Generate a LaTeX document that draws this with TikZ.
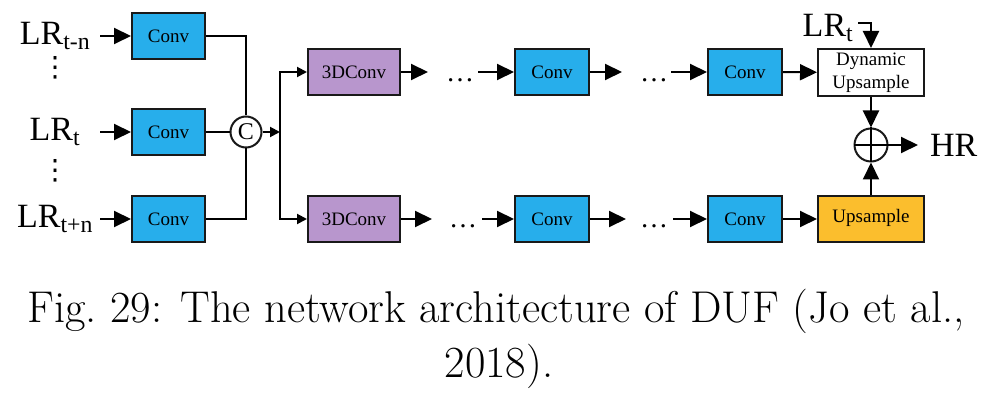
\documentclass[tikz,border=0pt]{standalone}
\usepackage{fontspec}
\usepackage{xcolor}
\usepackage{tikz}
\usetikzlibrary{arrows.meta}
\newfontfamily\diagfont{Liberation Serif}
\newfontfamily\symfont{DejaVu Sans}
\definecolor{convblue}{RGB}{39,174,235}
\definecolor{dconvpurple}{RGB}{184,150,205}
\definecolor{upsorange}{RGB}{251,190,45}

\begin{document}
\begin{tikzpicture}[x=1pt, y=-1pt, line width=2pt,
	box/.style={draw=black!90, line width=2pt, inner sep=0pt, minimum height=46pt, align=center, font=\diagfont\fontsize{19}{23}\selectfont},
	conv/.style={box, fill=convblue, minimum width=73pt},
	dconv/.style={box, fill=dconvpurple, minimum width=92pt},
	upbox/.style={box, minimum width=106pt},
	lbl/.style={inner sep=0pt, font=\diagfont\fontsize{34}{40}\selectfont},
	dotsty/.style={inner sep=0pt, anchor=base, font=\diagfont\fontsize{28}{30}\selectfont},
	vdotsty/.style={inner sep=0pt, font=\symfont\fontsize{28}{28}\selectfont},
	capsty/.style={anchor=base, inner sep=0pt, font=\fontsize{44.5}{54}\selectfont},
	big/.style={-{Triangle[length=17pt,width=16pt]}},
	small/.style={-{Triangle[length=10pt,width=10pt]}}]
				\useasboundingbox (0,0) rectangle (988,403);
				
				\node [lbl, minimum width=88pt] (inA) at (55,36) {LR\textsubscript{t-n}};
				\node [lbl, minimum width=88pt] (inB) at (55,132) {LR\textsubscript{t}};
				\node [lbl, minimum width=88pt] (inC) at (55,219) {LR\textsubscript{t+n}};
				\node [vdotsty] (vdA) at (55,68) {⋮};
				\node [vdotsty] (vdB) at (55,171) {⋮};
				
				\node [conv] (cvA) at (168.5,36) {Conv};
				\node [conv] (cvB) at (168.5,132) {Conv};
				\node [conv] (cvC) at (168.5,219) {Conv};
				
				\draw [big] (inA) -- (cvA);
				\draw [big] (inB) -- (cvB);
				\draw [big] (inC) -- (cvC);
				
				\node [circle, draw=black!90, fill=white, minimum size=31pt, inner sep=0pt, font=\diagfont\fontsize{24}{24}\selectfont] (cat) at (246,132) {C};
				\draw (cvA) -| (cat);
				\draw (cvB) -- (cat);
				\draw (cvC) -| (cat);
				
				\coordinate (split) at (280,132);
				\draw [small] (cat) -- (split);
				
				\node [dconv] (tdU) at (354,72) {3DConv};
				\node [dconv] (tdD) at (354,219) {3DConv};
				\draw [small] (split) |- (tdU);
				\draw [small] (split) |- (tdD);
				
				% % % % % % % % % % % % % % % % % % % % % % % % % %
				
				\coordinate (uA1) at (428,72);
				\coordinate (uA2) at (478,72);
				\coordinate (uB1) at (622,72);
				\coordinate (uB2) at (671,72);
				\node [dotsty] (dtU1) at (460,82) {\dots};
				\node [dotsty] (dtU2) at (654,82) {\dots};
				\node [conv, minimum width=74pt] (cvU1) at (552,72) {Conv};
				\node [conv, minimum width=74pt] (cvU2) at (745,72) {Conv};
				\node [upbox, fill=white, minimum height=47pt] (dyn) at (871,72.5) {Dynamic\\Upsample};
				
				\draw [big] (tdU) -- (uA1);
				\draw [big] (uA2) -- (cvU1);
				\draw [big] (cvU1) -- (uB1);
				\draw [big] (uB2) -- (cvU2);
				\draw [big] (cvU2) -- (dyn);
				
				\coordinate (dA1) at (432,219);
				\coordinate (dA2) at (482,219);
				\coordinate (dB1) at (626,219);
				\coordinate (dB2) at (673,219);
				\node [dotsty] (dtD1) at (463,228) {\dots};
				\node [dotsty] (dtD2) at (654,228) {\dots};
				\node [conv, minimum width=74pt] (cvD1) at (552,219) {Conv};
				\node [conv, minimum width=74pt] (cvD2) at (745,219) {Conv};
				\node [upbox, fill=upsorange, text depth=7pt] (ups) at (871,219) {Upsample};
				
				\draw [big] (tdD) -- (dA1);
				\draw [big] (dA2) -- (cvD1);
				\draw [big] (cvD1) -- (dB1);
				\draw [big] (dB2) -- (cvD2);
				\draw [big] (cvD2) -- (ups);
				
				% % % % % % % % % % % % % % % % % % % % % % % % % %
				
				\node [lbl] (lrT) at (828,28) {LR\textsubscript{t}};
				\coordinate (tapT) at (858,23);
				\draw [big] (tapT) -| (dyn);
				
				\node [circle, draw=black!90, minimum size=33pt, inner sep=0pt] (sum) at (871,145) {};
				\draw (sum.north) -- (sum.south);
				\draw (sum.west) -- (sum.east);
				\draw [big] (dyn) -- (sum);
				\draw [big] (ups) -- (sum);
				
				\node [lbl, anchor=west, inner xsep=11pt] (hr) at (918,145) {HR};
				\draw [big] (sum) -- (hr);
				
				\node [capsty] (capA) at (496,323) {Fig.~29: The network architecture of DUF (Jo et al.,};
				\node [capsty] (capB) at (499,377) {2018).};
\end{tikzpicture}
\end{document}
